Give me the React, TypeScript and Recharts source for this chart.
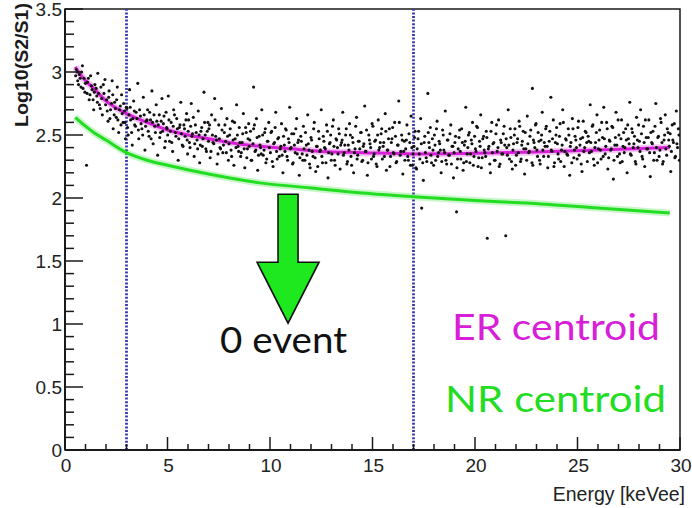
import React from 'react';
import {
  ComposedChart, Scatter, Line, XAxis, YAxis, ReferenceLine, ReferenceArea, ReferenceDot, Customized,
} from 'recharts';

// Energy [keVee], Log10(S2/S1) of each event (first half of the sample)
const eventsA: [number, number][] = [
  [0.55,3.02],[0.62,2.93],[0.7,2.98],[0.78,2.88],[0.85,3.05],[0.93,2.95],[0.97,2.84],
  [1.05,2.26],[1.1,2.92],[1.18,2.78],[1.25,2.97],[1.32,2.86],[1.4,2.7],[1.46,2.9],[1.55,2.81],[1.6,2.99],[1.68,2.74],[1.75,2.88],[1.82,2.66],[1.9,2.83],[1.95,2.94],
  [2.03,2.78],[2.1,2.61],[2.15,2.85],[2.22,2.7],[2.3,2.93],[2.35,2.55],[2.42,2.76],[2.5,2.64],[2.55,2.88],[2.62,2.52],[2.7,2.73],[2.76,2.82],[2.83,2.6],[2.9,2.69],[2.95,2.47],
  [3.02,2.71],[3.08,2.5],[3.15,2.86],[3.2,2.62],[3.28,2.42],[3.35,2.77],[3.4,2.58],[3.47,2.68],[3.55,2.91],[3.6,2.47],[3.68,2.65],[3.75,2.55],[3.82,2.8],[3.9,2.38],[3.96,2.61],
  [4.03,2.7],[4.1,2.49],[4.17,2.62],[4.24,2.85],[4.3,2.43],[4.38,2.57],[4.45,2.74],[4.52,2.34],[4.6,2.66],[4.66,2.52],[4.73,2.79],[4.8,2.59],[4.86,2.4],[4.93,2.68],[4.98,2.55],
  [5.04,2.81],[5.1,2.45],[5.18,2.6],[5.25,2.37],[5.3,2.7],[5.38,2.52],[5.45,2.63],[5.52,2.3],[5.58,2.56],[5.65,2.76],[5.72,2.42],[5.8,2.58],[5.86,2.49],[5.93,2.67],[5.98,2.35],
  [6.03,2.62],[6.1,2.4],[6.16,2.75],[6.22,2.51],[6.3,2.33],[6.36,2.58],[6.44,2.46],[6.5,2.69],[6.57,2.28],[6.63,2.53],[6.7,2.41],[6.78,2.84],[6.84,2.5],[6.9,2.37],[6.97,2.6],
  [7.02,2.55],[7.08,2.32],[7.15,2.66],[7.22,2.44],[7.3,2.79],[7.35,2.49],[7.42,2.27],[7.5,2.58],[7.56,2.4],[7.63,2.71],[7.7,2.36],[7.77,2.52],[7.84,2.45],[7.9,2.63],[7.97,2.3],
  [8.03,2.5],[8.1,2.38],[8.17,2.61],[8.24,2.26],[8.3,2.47],[8.37,2.74],[8.44,2.41],[8.5,2.56],[8.57,2.33],[8.64,2.44],[8.7,2.67],[8.77,2.24],[8.84,2.52],[8.9,2.39],[8.96,2.59],
  [9.02,2.46],[9.08,2.3],[9.2,2.88],[9.2,2.55],[9.27,2.37],[9.34,2.63],[9.4,2.22],[9.47,2.49],[9.54,2.4],[9.6,2.7],[9.67,2.34],[9.74,2.52],[9.8,2.28],[9.87,2.45],[9.94,2.6],
  [10.02,2.36],[10.08,2.53],[10.15,2.25],[10.22,2.44],[10.28,2.68],[10.35,2.31],[10.42,2.48],[10.5,2.39],[10.56,2.59],[10.63,2.2],[10.7,2.42],[10.76,2.55],[10.83,2.33],[10.9,2.47],[10.96,2.72],
  [11.03,2.4],[11.1,2.27],[11.16,2.51],[11.23,2.36],[11.3,2.63],[11.36,2.44],[11.43,2.18],[11.5,2.49],[11.57,2.35],[11.63,2.57],[11.7,2.3],[11.77,2.42],[11.84,2.66],[11.9,2.38],[11.96,2.24],
  [12.03,2.46],[12.1,2.33],[12.16,2.6],[12.23,2.21],[12.3,2.41],[12.37,2.53],[12.43,2.37],[12.5,2.7],[12.56,2.28],[12.63,2.45],[12.7,2.39],[12.76,2.58],[12.83,2.16],[12.9,2.43],[12.96,2.5],
  [13.02,2.35],[13.09,2.62],[13.15,2.3],[13.22,2.47],[13.29,2.4],[13.35,2.55],[13.42,2.23],[13.49,2.44],[13.55,2.68],[13.62,2.36],[13.69,2.5],[13.75,2.27],[13.82,2.42],[13.88,2.59],[13.95,2.33],
  [14.02,2.48],[14.08,2.2],[14.15,2.39],[14.22,2.64],[14.28,2.34],[14.35,2.45],[14.42,2.52],[14.48,2.29],[14.55,2.41],[14.62,2.73],[14.68,2.37],[14.75,2.18],[14.82,2.5],[14.88,2.43],[14.95,2.31],
  [15.02,2.57],[15.08,2.35],[15.15,2.46],[15.22,2.25],[15.28,2.62],[15.35,2.4],[15.42,2.51],[15.48,2.31],[15.55,2.44],[15.62,2.67],[15.68,2.22],[15.75,2.38],[15.82,2.55],[15.88,2.33],[15.95,2.47],
  [16.02,2.36],[16.08,2.6],[16.15,2.28],[16.22,2.42],[16.28,2.77],[16.35,2.34],[16.42,2.5],[16.48,2.19],[16.55,2.45],[16.62,2.39],[16.68,2.58],[16.75,2.3],[16.82,2.44],[16.88,2.65],[16.95,2.26],
  [17.02,2.41],[17.08,2.53],[17.15,2.23],[17.22,2.47],[17.28,2.35],[17.35,2.63],[17.4,1.92],[17.48,2.14],[17.55,2.49],[17.62,2.32],[17.7,2.83],[17.75,2.44],[17.82,2.56],[17.88,2.28],[17.95,2.38],
  [18.02,2.5],[18.08,2.3],[18.15,2.61],[18.22,2.36],[18.28,2.43],[18.35,2.2],[18.42,2.54],[18.48,2.38],[18.55,2.69],[18.62,2.27],[18.68,2.46],[18.75,2.34],[18.82,2.58],[18.88,2.41],[18.95,2.16],
  [19.02,2.44],[19.1,1.89],[19.15,2.31],[19.22,2.48],[19.28,2.37],[19.35,2.55],[19.42,2.22],[19.48,2.42],[19.55,2.72],[19.62,2.35],[19.68,2.5],[19.75,2.28],[19.82,2.46],[19.88,2.6],[19.95,2.33],
  [20.02,2.39],[20.08,2.57],[20.15,2.25],[20.22,2.45],[20.28,2.66],[20.35,2.32],[20.42,2.49],[20.48,2.36],[20.55,2.53],[20.6,1.68],[20.68,2.41],[20.75,2.2],[20.82,2.6],[20.88,2.43],[20.95,2.3],
  [21.02,2.51],[21.08,2.37],[21.15,2.62],[21.22,2.27],[21.28,2.44],[21.35,2.35],[21.42,2.57],[21.5,1.7],[21.55,2.4],[21.62,2.7],[21.68,2.31],[21.75,2.48],[21.82,2.23],[21.88,2.43],[21.95,2.55],
  [22.02,2.34],[22.08,2.47],[22.15,2.61],[22.22,2.29],[22.28,2.42],[22.35,2.53],[22.42,2.19],[22.48,2.39],[22.55,2.65],[22.62,2.36],[22.68,2.49],[22.8,2.87],[22.82,2.26],[22.88,2.44],[22.95,2.58],
  [23.02,2.38],[23.08,2.52],[23.15,2.3],[23.22,2.46],[23.28,2.68],[23.35,2.33],[23.42,2.41],[23.48,2.57],[23.55,2.24],[23.62,2.45],[23.7,2.8],[23.75,2.37],[23.82,2.62],[23.88,2.28],[23.95,2.5],
  [24.02,2.43],[24.08,2.31],[24.15,2.59],[24.22,2.38],[24.28,2.7],[24.35,2.25],[24.42,2.47],[24.48,2.35],[24.55,2.55],[24.62,2.18],[24.68,2.44],[24.75,2.63],[24.82,2.32],[24.88,2.49],[24.95,2.4],
  [25.02,2.56],[25.08,2.34],[25.15,2.47],[25.22,2.21],[25.28,2.61],[25.35,2.4],[25.42,2.52],[25.48,2.29],[25.55,2.45],[25.62,2.74],[25.68,2.37],[25.75,2.58],[25.82,2.26],[25.88,2.44],[25.95,2.66],
  [26.02,2.39],[26.08,2.54],[26.15,2.31],[26.22,2.48],[26.28,2.72],[26.35,2.35],[26.42,2.6],[26.48,2.23],[26.55,2.46],[26.62,2.38],[26.68,2.57],[26.75,2.15],[26.82,2.42],[26.88,2.68],[26.95,2.33],
  [27.02,2.5],[27.08,2.28],[27.15,2.62],[27.22,2.41],[27.28,2.36],[27.35,2.55],[27.42,2.2],[27.48,2.47],[27.55,2.76],[27.62,2.34],[27.68,2.52],[27.75,2.43],[27.82,2.29],[27.88,2.64],[27.95,2.4],
  [28.02,2.45],[28.08,2.7],[28.15,2.33],[28.22,2.57],[28.28,2.25],[28.35,2.48],[28.42,2.39],[28.48,2.62],[28.55,2.17],[28.62,2.44],[28.68,2.53],[28.75,2.36],[28.82,2.75],[28.88,2.3],[28.95,2.49],
  [29.02,2.38],[29.08,2.6],[29.15,2.27],[29.22,2.46],[29.28,2.66],[29.35,2.34],[29.42,2.52],[29.48,2.41],[29.55,2.21],[29.62,2.58],[29.68,2.44],[29.75,2.32],[29.82,2.69],[29.88,2.4],[29.95,2.5],
];

// Second half of the event sample
const eventsB: [number, number][] = [
  [0.52,2.97],[0.6,3.0],[0.66,2.9],[0.74,2.95],[0.81,3.0],[0.88,2.87],[1.0,2.91],[1.08,2.83],[1.14,2.95],[1.22,2.82],[1.29,2.89],[1.37,2.78],[1.43,2.84],
  [1.52,2.87],[1.58,2.76],[1.64,2.83],[1.72,2.71],[1.79,2.79],[1.87,2.9],[1.98,2.74],[2.06,2.69],[2.13,2.8],[2.19,2.63],[2.27,2.75],[2.33,2.82],[2.4,2.66],[2.46,2.71],
  [2.52,2.78],[2.58,2.62],[2.66,2.7],[2.73,2.58],[2.79,2.67],[2.86,2.75],[2.93,2.6],[2.99,2.72],[3.05,2.56],[3.12,2.66],[3.18,2.72],[3.25,2.52],[3.31,2.63],[3.38,2.69],[3.44,2.57],
  [3.51,2.63],[3.58,2.54],[3.64,2.7],[3.71,2.59],[3.79,2.5],[3.86,2.66],[3.93,2.57],[4.0,2.62],[4.06,2.53],[4.13,2.68],[4.2,2.47],[4.27,2.6],[4.34,2.66],[4.41,2.52],[4.48,2.61],
  [4.55,2.58],[4.62,2.48],[4.69,2.61],[4.76,2.53],[4.83,2.65],[4.9,2.45],[4.96,2.56],[5.01,2.5],[5.07,2.62],[5.14,2.53],[5.21,2.44],[5.28,2.57],[5.34,2.66],[5.41,2.49],[5.48,2.55],
  [5.55,2.47],[5.61,2.58],[5.68,2.51],[5.76,2.41],[5.83,2.55],[5.9,2.62],[5.96,2.46],[6.01,2.53],[6.07,2.44],[6.13,2.57],[6.19,2.49],[6.26,2.64],[6.33,2.43],[6.4,2.52],[6.47,2.39],
  [6.54,2.5],[6.6,2.42],[6.67,2.56],[6.73,2.47],[6.81,2.6],[6.87,2.39],[6.94,2.53],[7.0,2.45],[7.05,2.58],[7.12,2.37],[7.19,2.5],[7.26,2.43],[7.32,2.62],[7.39,2.46],[7.46,2.35],
  [7.53,2.47],[7.59,2.39],[7.66,2.54],[7.73,2.42],[7.8,2.58],[7.87,2.36],[7.93,2.49],[8.0,2.43],[8.06,2.55],[8.13,2.33],[8.2,2.46],[8.27,2.6],[8.34,2.4],[8.41,2.5],[8.47,2.37],
  [8.53,2.44],[8.6,2.36],[8.67,2.51],[8.74,2.39],[8.81,2.56],[8.87,2.32],[8.93,2.47],[8.99,2.41],[9.05,2.53],[9.11,2.3],[9.17,2.43],[9.24,2.58],[9.31,2.38],[9.37,2.48],[9.44,2.34],
  [9.51,2.42],[9.57,2.35],[9.64,2.5],[9.71,2.38],[9.77,2.55],[9.84,2.31],[9.9,2.45],[9.97,2.4],[10.05,2.52],[10.11,2.29],[10.18,2.43],[10.25,2.56],[10.32,2.37],[10.38,2.47],[10.45,2.33],
  [10.53,2.41],[10.59,2.34],[10.66,2.49],[10.73,2.37],[10.79,2.54],[10.86,2.3],[10.93,2.44],[10.99,2.39],[11.06,2.51],[11.13,2.28],[11.19,2.42],[11.26,2.55],[11.33,2.35],[11.39,2.46],[11.46,2.32],
  [11.53,2.45],[11.6,2.3],[11.66,2.39],[11.73,2.52],[11.8,2.34],[11.87,2.43],[11.93,2.27],[12.0,2.48],[12.06,2.37],[12.13,2.55],[12.2,2.32],[12.27,2.41],[12.33,2.25],[12.4,2.47],[12.46,2.38],
  [12.53,2.33],[12.6,2.49],[12.66,2.4],[12.73,2.28],[12.8,2.53],[12.86,2.36],[12.93,2.44],[12.99,2.3],[13.05,2.57],[13.12,2.41],[13.18,2.26],[13.25,2.46],[13.32,2.35],[13.38,2.51],[13.45,2.42],
  [13.52,2.46],[13.58,2.34],[13.65,2.42],[13.72,2.55],[13.78,2.29],[13.85,2.38],[13.92,2.5],[13.98,2.26],[14.05,2.44],[14.12,2.36],[14.18,2.57],[14.25,2.31],[14.31,2.45],[14.38,2.39],[14.45,2.52],
  [14.52,2.3],[14.58,2.43],[14.65,2.37],[14.71,2.54],[14.78,2.28],[14.85,2.46],[14.91,2.4],[14.98,2.59],[15.05,2.33],[15.11,2.45],[15.18,2.27],[15.25,2.5],[15.31,2.38],[15.38,2.44],[15.45,2.55],
  [15.52,2.41],[15.58,2.33],[15.65,2.53],[15.72,2.38],[15.78,2.47],[15.85,2.25],[15.92,2.44],[15.98,2.56],[16.05,2.35],[16.12,2.49],[16.18,2.29],[16.25,2.42],[16.31,2.6],[16.38,2.37],[16.45,2.46],
  [16.52,2.37],[16.58,2.3],[16.65,2.46],[16.72,2.33],[16.78,2.51],[16.85,2.26],[16.92,2.4],[16.98,2.35],[17.05,2.48],[17.12,2.24],[17.18,2.39],[17.25,2.53],[17.31,2.31],[17.38,2.43],[17.45,2.28],
  [17.52,2.44],[17.58,2.36],[17.65,2.29],[17.72,2.52],[17.78,2.4],[17.85,2.34],[17.92,2.47],[17.98,2.26],[18.05,2.42],[18.12,2.55],[18.18,2.33],[18.25,2.45],[18.31,2.38],[18.38,2.29],[18.45,2.5],
  [18.52,2.36],[18.58,2.3],[18.65,2.46],[18.72,2.34],[18.78,2.51],[18.85,2.27],[18.92,2.41],[18.98,2.36],[19.05,2.49],[19.12,2.24],[19.18,2.39],[19.25,2.54],[19.31,2.31],[19.38,2.44],[19.45,2.28],
  [19.52,2.45],[19.58,2.29],[19.65,2.4],[19.72,2.52],[19.78,2.35],[19.85,2.43],[19.92,2.26],[19.98,2.49],[20.05,2.37],[20.12,2.56],[20.18,2.32],[20.25,2.41],[20.31,2.24],[20.38,2.47],[20.45,2.38],
  [20.52,2.33],[20.58,2.48],[20.65,2.39],[20.72,2.27],[20.78,2.53],[20.85,2.36],[20.92,2.44],[20.98,2.3],[21.05,2.58],[21.12,2.4],[21.18,2.25],[21.25,2.46],[21.31,2.35],[21.38,2.51],[21.45,2.42],
  [21.52,2.47],[21.58,2.34],[21.65,2.42],[21.72,2.55],[21.78,2.29],[21.85,2.38],[21.92,2.5],[21.98,2.26],[22.05,2.44],[22.12,2.36],[22.18,2.57],[22.25,2.31],[22.31,2.45],[22.38,2.39],[22.45,2.52],
  [22.52,2.3],[22.58,2.43],[22.65,2.37],[22.72,2.54],[22.78,2.28],[22.85,2.46],[22.92,2.4],[22.98,2.59],[23.05,2.33],[23.12,2.45],[23.18,2.27],[23.25,2.5],[23.31,2.38],[23.38,2.44],[23.45,2.55],
  [23.52,2.41],[23.58,2.33],[23.65,2.53],[23.72,2.38],[23.78,2.47],[23.85,2.25],[23.92,2.44],[23.98,2.56],[24.05,2.35],[24.12,2.49],[24.18,2.29],[24.25,2.42],[24.31,2.6],[24.38,2.37],[24.45,2.46],
  [24.52,2.34],[24.58,2.5],[24.65,2.41],[24.72,2.28],[24.78,2.55],[24.85,2.38],[24.92,2.46],[24.98,2.31],[25.05,2.61],[25.12,2.42],[25.18,2.27],[25.25,2.48],[25.31,2.37],[25.38,2.53],[25.45,2.44],
  [25.52,2.49],[25.58,2.36],[25.65,2.44],[25.72,2.57],[25.78,2.31],[25.85,2.4],[25.92,2.52],[25.98,2.28],[26.05,2.46],[26.12,2.38],[26.18,2.6],[26.25,2.33],[26.31,2.47],[26.38,2.41],[26.45,2.55],
  [26.52,2.32],[26.58,2.45],[26.65,2.39],[26.72,2.56],[26.78,2.3],[26.85,2.48],[26.92,2.42],[26.98,2.62],[27.05,2.35],[27.12,2.47],[27.18,2.29],[27.25,2.52],[27.31,2.4],[27.38,2.46],[27.45,2.58],
  [27.52,2.43],[27.58,2.35],[27.65,2.55],[27.72,2.4],[27.78,2.49],[27.85,2.27],[27.92,2.46],[27.98,2.58],[28.05,2.37],[28.12,2.51],[28.18,2.31],[28.25,2.44],[28.31,2.62],[28.38,2.39],[28.45,2.48],
  [28.52,2.36],[28.58,2.52],[28.65,2.43],[28.72,2.3],[28.78,2.57],[28.85,2.4],[28.92,2.48],[28.98,2.33],[29.05,2.63],[29.12,2.44],[29.18,2.29],[29.25,2.5],[29.31,2.39],[29.38,2.55],[29.45,2.46],
  [29.52,2.51],[29.58,2.37],[29.65,2.46],[29.72,2.59],[29.78,2.33],[29.85,2.43],[29.92,2.55],[29.97,2.3],
];

// ER centroid curve
const erCentroid: [number, number][] = [
  [0.5,3.04],[1,2.93],[1.4,2.87],[2,2.77],[3,2.67],[4,2.6],[5,2.54],[6,2.5],[7,2.47],[8,2.44],
  [9.5,2.41],[11,2.39],[12.5,2.37],[14.5,2.36],[17,2.35],[20,2.355],[23,2.365],[26,2.38],[29.5,2.4],
];

// NR centroid curve
const nrCentroid: [number, number][] = [
  [0.5,2.64],[1,2.57],[1.4,2.52],[2,2.46],[3,2.36],[4,2.3],[5,2.26],[7,2.19],[9.5,2.12],[12,2.08],
  [14.5,2.04],[17,2.01],[20,1.98],[22.5,1.96],[26,1.92],[29.5,1.88],
];

// Analysis window
const windowEdges = [3, 17];

const xTicks = [0,1,2,3,4,5,6,7,8,9,10,11,12,13,14,15,16,17,18,19,20,21,22,23,24,25,26,27,28,29,30];
const yTicks = [0,0.1,0.2,0.3,0.4,0.5,0.6,0.7,0.8,0.9,1,1.1,1.2,1.3,1.4,1.5,1.6,1.7,1.8,1.9,2,2.1,2.2,2.3,2.4,2.5,2.6,2.7,2.8,2.9,3,3.1,3.2,3.3,3.4,3.5];

const xTitle = 'Energy [keVee]';
const yTitle = 'Log10(S2/S1)';
const erLabel = 'ER centroid';
const nrLabel = 'NR centroid';
const eventLabel = '0 event';

const toObj = (a: [number, number][]) => a.map(([x, y]) => ({ x, y }));
const eventData = toObj([...eventsA, ...eventsB]);
const erData = toObj(erCentroid);
const nrData = toObj(nrCentroid);

const AX_FONT = '"Liberation Sans", Arial, Helvetica, sans-serif';
const ANN_FONT = 'Lato, "Open Sans", sans-serif';
const INK = '#1a1a1a';
const MAGENTA = '#d81ed8';
const GREEN = '#22dd22';

const fmt = (v: number) => String(Math.round(v * 10) / 10);

const YTick = (props: any) => {
  const { x, y, payload } = props;
  const v = payload.value;
  const major = Math.abs(v * 2 - Math.round(v * 2)) < 1e-6;
  return (
    <g>
      <line x1={x} x2={x + (major ? 18 : 9)} y1={y} y2={y} stroke={INK} strokeWidth={1.5} />
      {major && (
        <text x={x - 3} y={y + 7} textAnchor="end" fontSize={19} fontFamily={AX_FONT} fill="#222">
          {fmt(v)}
        </text>
      )}
    </g>
  );
};

const XTick = (props: any) => {
  const { x, y, payload } = props;
  const v = payload.value;
  const major = v % 5 === 0;
  return (
    <g>
      <line x1={x} x2={x} y1={y} y2={y - (major ? 13 : 6)} stroke={INK} strokeWidth={1.5} />
      {major && (
        <text x={x + 1} y={y + 22} textAnchor="middle" fontSize={19} fontFamily={AX_FONT} fill="#222">
          {fmt(v)}
        </text>
      )}
    </g>
  );
};

const Titles = () => (
  <g>
    <text
      x={0}
      y={0}
      transform="translate(28,65) rotate(-90)"
      textAnchor="middle"
      fontSize={19}
      fontWeight="bold"
      fontFamily={AX_FONT}
      fill={INK}
      textLength={124}
      lengthAdjust="spacingAndGlyphs"
    >
      {yTitle}
    </text>
    <text x={685} y={501} textAnchor="end" fontSize={19.5} fontFamily={AX_FONT} fill="#222">
      {xTitle}
    </text>
  </g>
);

const makeText = (text: string, color: string, width: number) => (p: any) => (
  <text
    x={p.cx}
    y={p.cy}
    fontSize={37}
    fontFamily={ANN_FONT}
    fill={color}
    textLength={width}
    lengthAdjust="spacingAndGlyphs"
  >
    {text}
  </text>
);

const ArrowShape = (p: any) => {
  const { cx, cy } = p;
  const pts = [
    [-10, 0], [10, 0], [10, 68], [31, 68], [0, 129], [-31, 68], [-10, 68],
  ].map(([dx, dy]) => `${cx + dx},${cy + dy}`).join(' ');
  return <polygon points={pts} fill="#1ee81e" stroke="#111" strokeWidth={1.6} strokeLinejoin="miter" />;
};

const Dot = (p: any) => <circle cx={p.cx} cy={p.cy} r={1.55} fill="#111" />;

export default function App() {
  return (
    <div style={{ position: 'absolute', left: 0, top: 0, background: '#fff' }}>
      <ComposedChart width={692} height={508} margin={{ top: 9, right: 12, bottom: 8, left: 5 }}>
        <XAxis
          dataKey="x"
          type="number"
          domain={[0, 30]}
          ticks={xTicks}
          interval={0}
          allowDataOverflow
          tickSize={0}
          tickMargin={0}
          tickLine={false}
          tick={<XTick />}
          axisLine={{ stroke: INK, strokeWidth: 2 }}
          height={50}
        />
        <YAxis
          dataKey="y"
          type="number"
          domain={[0, 3.5]}
          ticks={yTicks}
          interval={0}
          allowDataOverflow
          tickSize={0}
          tickMargin={0}
          tickLine={false}
          tick={<YTick />}
          axisLine={{ stroke: INK, strokeWidth: 2 }}
          width={60}
        />
        <ReferenceArea x1={0} x2={30} y1={0} y2={3.5} fill="none" fillOpacity={0} stroke={INK} strokeWidth={1.5} />
        <Scatter data={eventData} dataKey="y" shape={<Dot />} isAnimationActive={false} />
        {windowEdges.map((e) => (
          <ReferenceLine key={e} x={e} stroke="#3a3ab0" strokeWidth={2.8} strokeDasharray="2 1.6" />
        ))}
        <Line data={erData} dataKey="y" type="monotone" stroke={MAGENTA} strokeOpacity={0.25} strokeWidth={7} dot={false} isAnimationActive={false} />
        <Line data={erData} dataKey="y" type="monotone" stroke={MAGENTA} strokeWidth={3} dot={false} isAnimationActive={false} />
        <Line data={nrData} dataKey="y" type="monotone" stroke={GREEN} strokeOpacity={0.25} strokeWidth={7} dot={false} isAnimationActive={false} />
        <Line data={nrData} dataKey="y" type="monotone" stroke={GREEN} strokeWidth={3} dot={false} isAnimationActive={false} />
        <ReferenceDot x={10.88} y={2.03} r={0} shape={ArrowShape} />
        <ReferenceDot x={18.88} y={0.873} r={0} shape={makeText(erLabel, MAGENTA, 208)} />
        <ReferenceDot x={18.54} y={0.302} r={0} shape={makeText(nrLabel, GREEN, 221)} />
        <ReferenceDot x={7.56} y={0.77} r={0} shape={makeText(eventLabel, '#111', 127)} />
        <Customized component={<Titles />} />
      </ComposedChart>
    </div>
  );
}
